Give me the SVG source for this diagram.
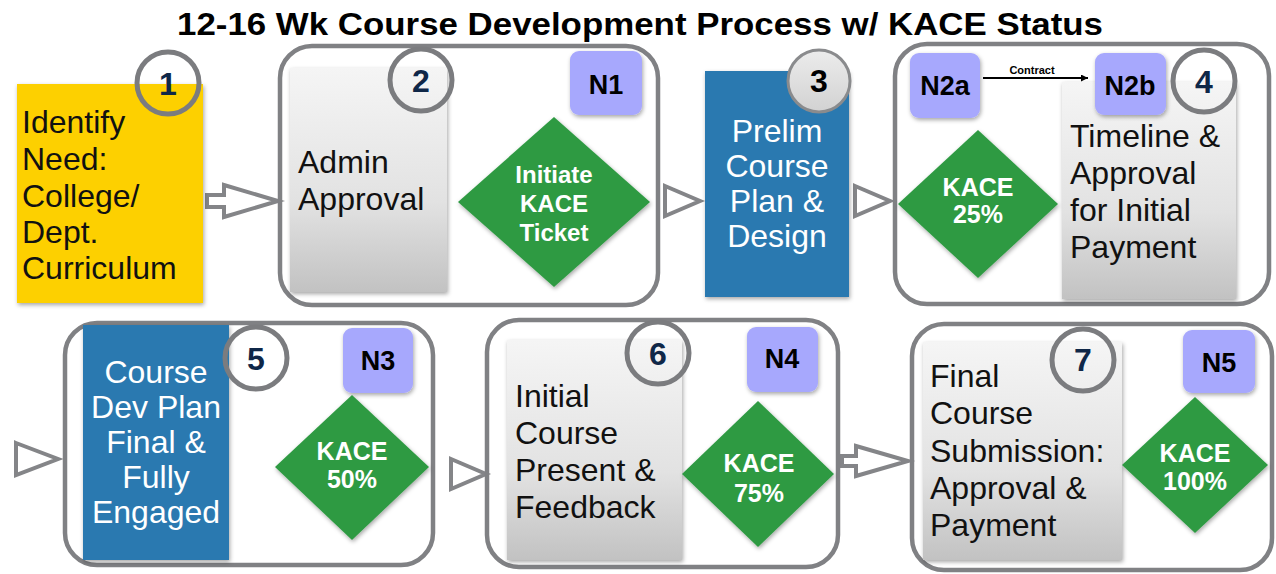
<svg xmlns="http://www.w3.org/2000/svg" width="1276" height="574" viewBox="0 0 1276 574">
<defs>
<linearGradient id="gbox" x1="0" y1="0" x2="0" y2="1">
<stop offset="0" stop-color="#f5f5f5"/>
<stop offset="0.6" stop-color="#e2e2e2"/>
<stop offset="1" stop-color="#c2c2c2"/>
</linearGradient>
<linearGradient id="gcirc" x1="0" y1="0" x2="0" y2="1">
<stop offset="0" stop-color="#ececec"/>
<stop offset="1" stop-color="#d2d2d2"/>
</linearGradient>
<filter id="sh" x="-10%" y="-10%" width="130%" height="130%">
<feDropShadow dx="1" dy="2" stdDeviation="2" flood-color="#000" flood-opacity="0.35"/>
</filter>
<marker id="ah" viewBox="0 0 10 10" refX="10" refY="5" markerWidth="7" markerHeight="7" orient="auto" markerUnits="userSpaceOnUse">
<path d="M0,0 L10,5 L0,10 z" fill="#000"/>
</marker>
</defs>
<style>
.cont{fill:none;stroke:#808184;stroke-width:4.5}
.gray{fill:url(#gbox);filter:url(#sh)}
.blue{fill:#2c79b0;filter:url(#sh)}
.yellow{fill:#fdd000;filter:url(#sh)}
.ring{fill:none;stroke:#7b7c7f;stroke-width:5}
.num{font-family:"Liberation Sans",Arial,sans-serif;font-weight:bold;font-size:32px;fill:#0f2748;text-anchor:middle}
.nbox{fill:#a7a8fd;filter:url(#sh)}
.ntxt{font-family:"Liberation Sans",Arial,sans-serif;font-weight:bold;font-size:27px;fill:#000;text-anchor:middle}
.dia{fill:#2f9a43;filter:url(#sh)}
.dtxt{font-family:"Liberation Sans",Arial,sans-serif;font-weight:bold;font-size:25px;fill:#fff;text-anchor:middle}
.body{font-family:"Liberation Sans",Arial,sans-serif;font-size:32px;fill:#111}
.bodyw{font-family:"Liberation Sans",Arial,sans-serif;font-size:32px;fill:#fff;text-anchor:middle}
.arr{fill:#fff;stroke:#848588;stroke-width:4;stroke-linejoin:miter}
</style>
<rect width="1276" height="574" fill="#fff"/>
<text x="640" y="35" text-anchor="middle" font-family="'Liberation Sans',Arial,sans-serif" font-weight="bold" font-size="32" textLength="926" lengthAdjust="spacingAndGlyphs" fill="#000">12-16 Wk Course Development Process w/ KACE Status</text>

<g id="connectors">
<polygon class="arr" points="207,195 224,195 224,185 278,201 224,217 224,207 207,207"/>
<polygon class="arr" points="665,186 700,201 665,216"/>
<polygon class="arr" points="855,186 890,201 855,216"/>
<polygon class="arr" points="16,443 58,459 16,475"/>
<polygon class="arr" points="451,459 486,474 451,489"/>
<polygon class="arr" points="842,456 856,456 856,446 908,461 856,476 856,466 842,466"/>
<line x1="983" y1="78" x2="1088" y2="78" stroke="#000" stroke-width="2" marker-end="url(#ah)"/>
<text x="1032" y="74" text-anchor="middle" font-family="'Liberation Sans',Arial,sans-serif" font-weight="bold" font-size="11" fill="#000">Contract</text>
</g>

<g id="node1">
<rect class="yellow" x="17" y="84" width="186" height="219"/>
<circle class="ring" cx="168" cy="83" r="31"/>
<text class="num" x="168" y="95">1</text>
<text class="body" x="22" y="133">Identify</text>
<text class="body" x="22" y="170">Need:</text>
<text class="body" x="22" y="207">College/</text>
<text class="body" x="22" y="243">Dept.</text>
<text class="body" x="22" y="279">Curriculum</text>
</g>

<g id="node2">
<rect class="cont" x="280" y="46" width="378" height="259" rx="32"/>
<rect class="gray" x="290" y="68" width="157" height="224"/>
<circle class="ring" cx="421" cy="80" r="31"/>
<text class="num" x="421" y="92">2</text>
<text class="body" x="298" y="173">Admin</text>
<text class="body" x="298" y="210">Approval</text>
<rect class="nbox" x="570" y="51" width="72" height="64" rx="9"/>
<text class="ntxt" x="606" y="94">N1</text>
<polygon class="dia" points="554,117 650,202 554,287 458,202"/>
<text class="dtxt" x="554" y="183" style="font-size:24px">Initiate</text>
<text class="dtxt" x="554" y="212" style="font-size:24px">KACE</text>
<text class="dtxt" x="554" y="241" style="font-size:24px">Ticket</text>
</g>

<g id="node3">
<rect class="blue" x="705" y="71" width="144" height="226"/>
<circle cx="819" cy="81" r="31" fill="url(#gcirc)" stroke="#8a8b8d" stroke-width="3"/>
<text class="num" x="819" y="92" style="fill:#000">3</text>
<text class="bodyw" x="777" y="142">Prelim</text>
<text class="bodyw" x="777" y="177">Course</text>
<text class="bodyw" x="777" y="212">Plan &amp;</text>
<text class="bodyw" x="777" y="247">Design</text>
</g>

<g id="node4">
<rect class="cont" x="895" y="44" width="374" height="260" rx="32"/>
<rect class="gray" x="1062" y="82" width="174" height="217"/>
<rect class="nbox" x="910" y="53" width="70" height="65" rx="9"/>
<text class="ntxt" x="945" y="95">N2a</text>
<rect class="nbox" x="1095" y="53" width="71" height="62" rx="9"/>
<text class="ntxt" x="1130" y="95">N2b</text>
<circle class="ring" cx="1204" cy="81" r="31"/>
<text class="num" x="1204" y="93">4</text>
<polygon class="dia" points="978,130 1058,204 978,278 898,204"/>
<text class="dtxt" x="978" y="196">KACE</text>
<text class="dtxt" x="978" y="223">25%</text>
<text class="body" x="1070" y="147">Timeline &amp;</text>
<text class="body" x="1070" y="184">Approval</text>
<text class="body" x="1070" y="221">for Initial</text>
<text class="body" x="1070" y="258">Payment</text>
</g>

<g id="node5">
<rect class="cont" x="65" y="323" width="368" height="242" rx="32"/>
<rect class="blue" x="83" y="325" width="146" height="235"/>
<circle class="ring" cx="256" cy="358" r="31"/>
<text class="num" x="256" y="370">5</text>
<text class="bodyw" x="156" y="383">Course</text>
<text class="bodyw" x="156" y="418">Dev Plan</text>
<text class="bodyw" x="156" y="453">Final &amp;</text>
<text class="bodyw" x="156" y="488">Fully</text>
<text class="bodyw" x="156" y="523">Engaged</text>
<rect class="nbox" x="343" y="328" width="70" height="65" rx="9"/>
<text class="ntxt" x="378" y="370">N3</text>
<polygon class="dia" points="352,395 429,467 352,540 275,467"/>
<text class="dtxt" x="352" y="460">KACE</text>
<text class="dtxt" x="352" y="488">50%</text>
</g>

<g id="node6">
<rect class="cont" x="487" y="320" width="351" height="247" rx="32"/>
<rect class="gray" x="507" y="340" width="175" height="220"/>
<circle class="ring" cx="658" cy="353" r="31"/>
<text class="num" x="658" y="365">6</text>
<text class="body" x="515" y="407">Initial</text>
<text class="body" x="515" y="444">Course</text>
<text class="body" x="515" y="481">Present &amp;</text>
<text class="body" x="515" y="518">Feedback</text>
<rect class="nbox" x="747" y="327" width="71" height="65" rx="9"/>
<text class="ntxt" x="782" y="368">N4</text>
<polygon class="dia" points="758,401 834,474 758,547 682,474"/>
<text class="dtxt" x="759" y="472">KACE</text>
<text class="dtxt" x="759" y="502">75%</text>
</g>

<g id="node7">
<rect class="cont" x="912" y="324" width="360" height="246" rx="32"/>
<rect class="gray" x="923" y="342" width="199" height="218"/>
<circle class="ring" cx="1083" cy="360" r="31"/>
<text class="num" x="1083" y="371">7</text>
<text class="body" x="930" y="387">Final</text>
<text class="body" x="930" y="424">Course</text>
<text class="body" x="930" y="462">Submission:</text>
<text class="body" x="930" y="499">Approval &amp;</text>
<text class="body" x="930" y="536">Payment</text>
<rect class="nbox" x="1183" y="330" width="72" height="63" rx="9"/>
<text class="ntxt" x="1219" y="372">N5</text>
<polygon class="dia" points="1195,397 1268,465 1195,533 1122,465"/>
<text class="dtxt" x="1195" y="462">KACE</text>
<text class="dtxt" x="1195" y="490">100%</text>
</g>
</svg>
